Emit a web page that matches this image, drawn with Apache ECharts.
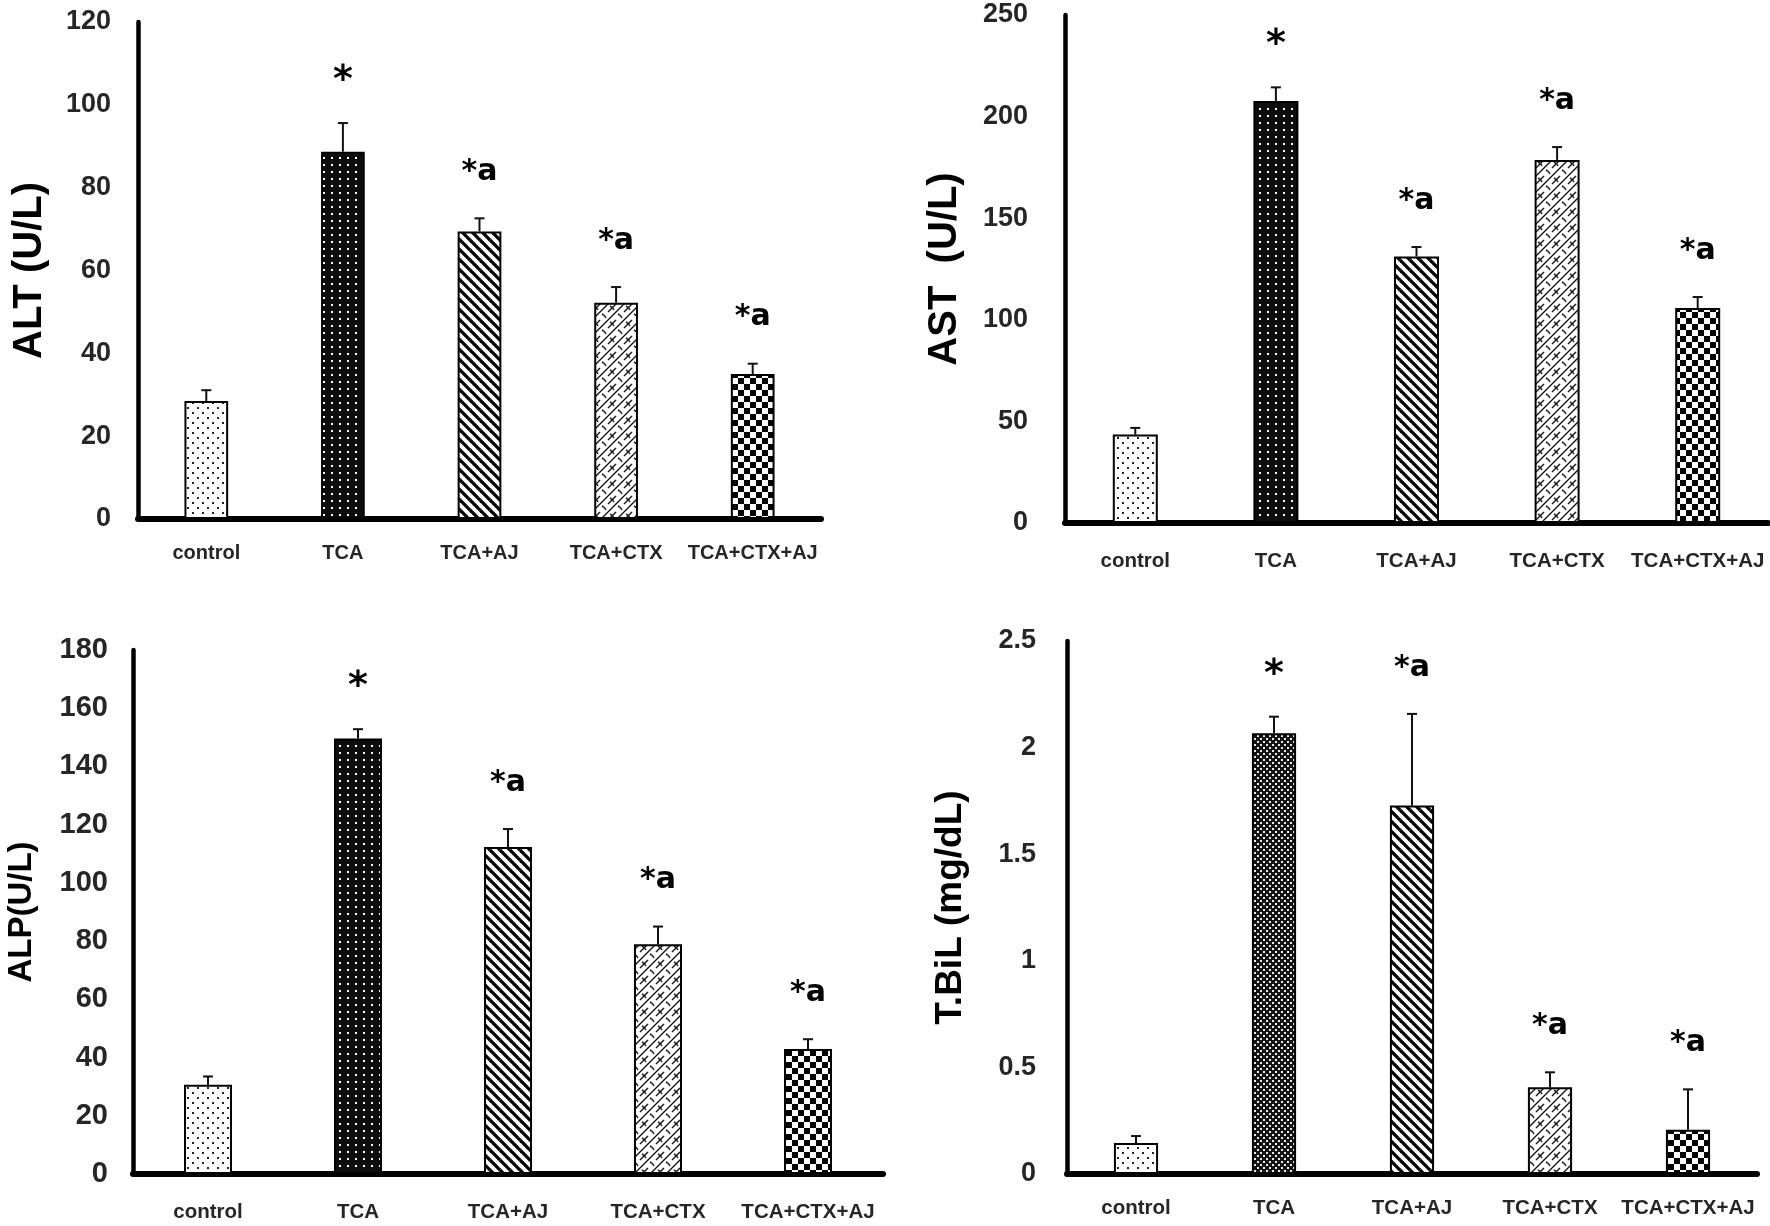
<!DOCTYPE html>
<html>
<head>
<meta charset="utf-8">
<script src="https://cdn.jsdelivr.net/npm/echarts@6/dist/echarts.min.js"></script>
<style>
  html, body { margin: 0; padding: 0; background: #fff; }
  #chart { width: 1770px; height: 1226px; }
</style>
</head>
<body>
<div id="chart"></div>
<script>
// ---------------- DATA ----------------
const categories = ['control', 'TCA', 'TCA+AJ', 'TCA+CTX', 'TCA+CTX+AJ'];
const sigLabels = ['', '*', '*a', '*a', '*a'];

const altMean = [28.5, 88.7, 69.4, 52.2, 35.0];
const altSD   = [2.6, 6.9, 3.2, 3.8, 2.5];

const astMean = [43.5, 207.7, 131.2, 178.7, 105.8];
const astSD   = [3.3, 6.7, 4.6, 6.3, 5.4];

const alpMean = [30.7, 149.6, 112.3, 78.9, 42.9];
const alpSD   = [2.8, 3.2, 6.2, 6.1, 3.4];

const tbilMean = [0.145, 2.067, 1.729, 0.407, 0.207];
const tbilSD   = [0.033, 0.078, 0.429, 0.070, 0.190];

// ---------------- PATTERNS ----------------
function makeCanvas(w, h, draw) {
  const c = document.createElement('canvas');
  c.width = w; c.height = h;
  const g = c.getContext('2d');
  draw(g, w, h);
  return c;
}
function tiled(g, w, h, fn) {
  for (let dx = -w; dx <= w; dx += w)
    for (let dy = -h; dy <= h; dy += h) fn(dx, dy);
}
const patDots = makeCanvas(10, 10, (g) => {
  g.fillStyle = '#fff'; g.fillRect(0, 0, 10, 10);
  g.fillStyle = '#222';
  g.fillRect(2, 2, 2, 2); g.fillRect(7, 7, 2, 2);
});
const patDark = makeCanvas(8, 7, (g) => {
  g.fillStyle = '#0d0d0d'; g.fillRect(0, 0, 8, 7);
  g.fillStyle = '#fff'; g.fillRect(3, 3, 2, 2);
});
const patMesh = makeCanvas(6, 6, (g) => {
  g.fillStyle = '#141414'; g.fillRect(0, 0, 6, 6);
  g.fillStyle = '#e8e8e8'; g.fillRect(0, 0, 2, 2); g.fillRect(3, 3, 2, 2);
});
const patStripes = makeCanvas(10, 10, (g, w, h) => {
  g.fillStyle = '#fff'; g.fillRect(0, 0, w, h);
  g.strokeStyle = '#000'; g.lineWidth = 3.3;
  tiled(g, w, h, (dx, dy) => {
    g.beginPath(); g.moveTo(dx, dy); g.lineTo(dx + w, dy + h); g.stroke();
  });
});
const patShingle = makeCanvas(16, 16, (g, w, h) => {
  g.fillStyle = '#fff'; g.fillRect(0, 0, w, h);
  g.strokeStyle = '#1a1a1a'; g.lineWidth = 1.4;
  tiled(g, w, h, (dx, dy) => {
    g.beginPath(); g.moveTo(dx, dy + 8); g.lineTo(dx + 8, dy); g.stroke();
    g.beginPath(); g.moveTo(dx, dy + 16); g.lineTo(dx + 16, dy); g.stroke();
    g.beginPath(); g.moveTo(dx + 2, dy + 2); g.quadraticCurveTo(dx + 5, dy + 3.5, dx + 6, dy + 6); g.stroke();
    g.beginPath(); g.moveTo(dx + 10, dy + 10); g.quadraticCurveTo(dx + 13, dy + 11.5, dx + 14, dy + 14); g.stroke();
  });
});
const patChecker = makeCanvas(12, 12, (g) => {
  g.fillStyle = '#fff'; g.fillRect(0, 0, 12, 12);
  g.fillStyle = '#000'; g.fillRect(0, 0, 6, 6); g.fillRect(6, 6, 6, 6);
});
const pat = (c) => ({ image: c, repeat: 'repeat' });
const fillsStd  = [pat(patDots), pat(patDark), pat(patStripes), pat(patShingle), pat(patChecker)];
const fillsTbil = [pat(patDots), pat(patMesh), pat(patStripes), pat(patShingle), pat(patChecker)];

// ---------------- PANELS ----------------
const tickFont = "'Liberation Sans', Arial, sans-serif";
const titleFont = "'Liberation Sans', Arial, sans-serif";
const panels = [
  { mean: altMean, sd: altSD, title: 'ALT (U/L)', max: 120, interval: 20, fills: fillsStd,
    grid: { left: 138, top: 22, width: 683, height: 497 },
    tickSize: 27, tickMargin: 27, catSize: 20, catMargin: 24, titleSize: 40, titleGap: 88 },
  { mean: astMean, sd: astSD, title: 'AST  (U/L)', max: 250, interval: 50, fills: fillsStd,
    grid: { left: 1065, top: 15, width: 703, height: 508 },
    tickSize: 27, tickMargin: 37, catSize: 20.5, catMargin: 28, titleSize: 40, titleGap: 100 },
  { mean: alpMean, sd: alpSD, title: 'ALP(U/L)', max: 180, interval: 20, fills: fillsStd,
    grid: { left: 133, top: 650, width: 750, height: 524 },
    tickSize: 29, tickMargin: 25, catSize: 20.5, catMargin: 28, titleSize: 33, titleGap: 95 },
  { mean: tbilMean, sd: tbilSD, title: 'T.BiL (mg/dL)', max: 2.5, interval: 0.5, fills: fillsTbil,
    grid: { left: 1067, top: 641, width: 690, height: 533 },
    tickSize: 27, tickMargin: 31, catSize: 20.5, catMargin: 24, titleSize: 37, titleGap: 98 }
];

const grid = [], xAxis = [], yAxis = [], series = [];
panels.forEach((p, k) => {
  grid.push(Object.assign({ containLabel: false }, p.grid));
  xAxis.push({
    type: 'category', gridIndex: k, data: categories,
    axisLine: { show: true, lineStyle: { color: '#000', width: 6 } },
    axisTick: { show: false },
    axisLabel: { color: '#262626', fontFamily: tickFont, fontWeight: 'bold', fontSize: p.catSize, margin: p.catMargin, interval: 0 },
    splitLine: { show: false }
  });
  yAxis.push({
    type: 'value', gridIndex: k, min: 0, max: p.max, interval: p.interval,
    name: p.title, nameLocation: 'middle', nameRotate: 90, nameGap: p.titleGap,
    nameTextStyle: { color: '#000', fontFamily: titleFont, fontWeight: 'bold', fontSize: p.titleSize },
    axisLine: { show: true, lineStyle: { color: '#000', width: 4.5 } },
    axisTick: { show: false },
    axisLabel: { color: '#262626', fontFamily: tickFont, fontWeight: 'bold', fontSize: p.tickSize, margin: p.tickMargin },
    splitLine: { show: false }
  });
  series.push({
    type: 'bar', xAxisIndex: k, yAxisIndex: k, barWidth: '32%', silent: true,
    data: p.mean.map((v, i) => ({
      value: v,
      itemStyle: { color: p.fills[i], borderColor: '#000', borderWidth: 2 }
    })),
    z: 2
  });
  series.push({
    type: 'custom', xAxisIndex: k, yAxisIndex: k, silent: true, z: 5,
    data: p.mean.map((v, i) => [i, v, p.sd[i]]),
    encode: { x: 0, y: 1 },
    renderItem: function (params, api) {
      const i = api.value(0), m = api.value(1), s = api.value(2);
      const p0 = api.coord([i, m]);
      const p1 = api.coord([i, m + s]);
      const lbl = sigLabels[params.dataIndex];
      const children = [
        { type: 'line', shape: { x1: p0[0], y1: p0[1], x2: p1[0], y2: p1[1] }, style: { stroke: '#111', lineWidth: 2 } },
        { type: 'line', shape: { x1: p1[0] - 5, y1: p1[1], x2: p1[0] + 5, y2: p1[1] }, style: { stroke: '#111', lineWidth: 2 } }
      ];
      if (lbl) {
        const big = lbl === '*';
        children.push({
          type: 'text',
          style: { text: lbl, x: p1[0], y: p1[1] - (big ? 42 : 46), fill: '#000', align: 'center', verticalAlign: 'middle',
                   font: (big ? "bold 38px" : "bold 30px") + " 'DejaVu Sans', sans-serif" }
        });
      }
      return { type: 'group', children: children };
    }
  });
});

const chart = echarts.init(document.getElementById('chart'), null, { renderer: 'canvas' });
chart.setOption({
  backgroundColor: '#fff',
  animation: false,
  grid: grid, xAxis: xAxis, yAxis: yAxis, series: series
});
</script>
</body>
</html>
